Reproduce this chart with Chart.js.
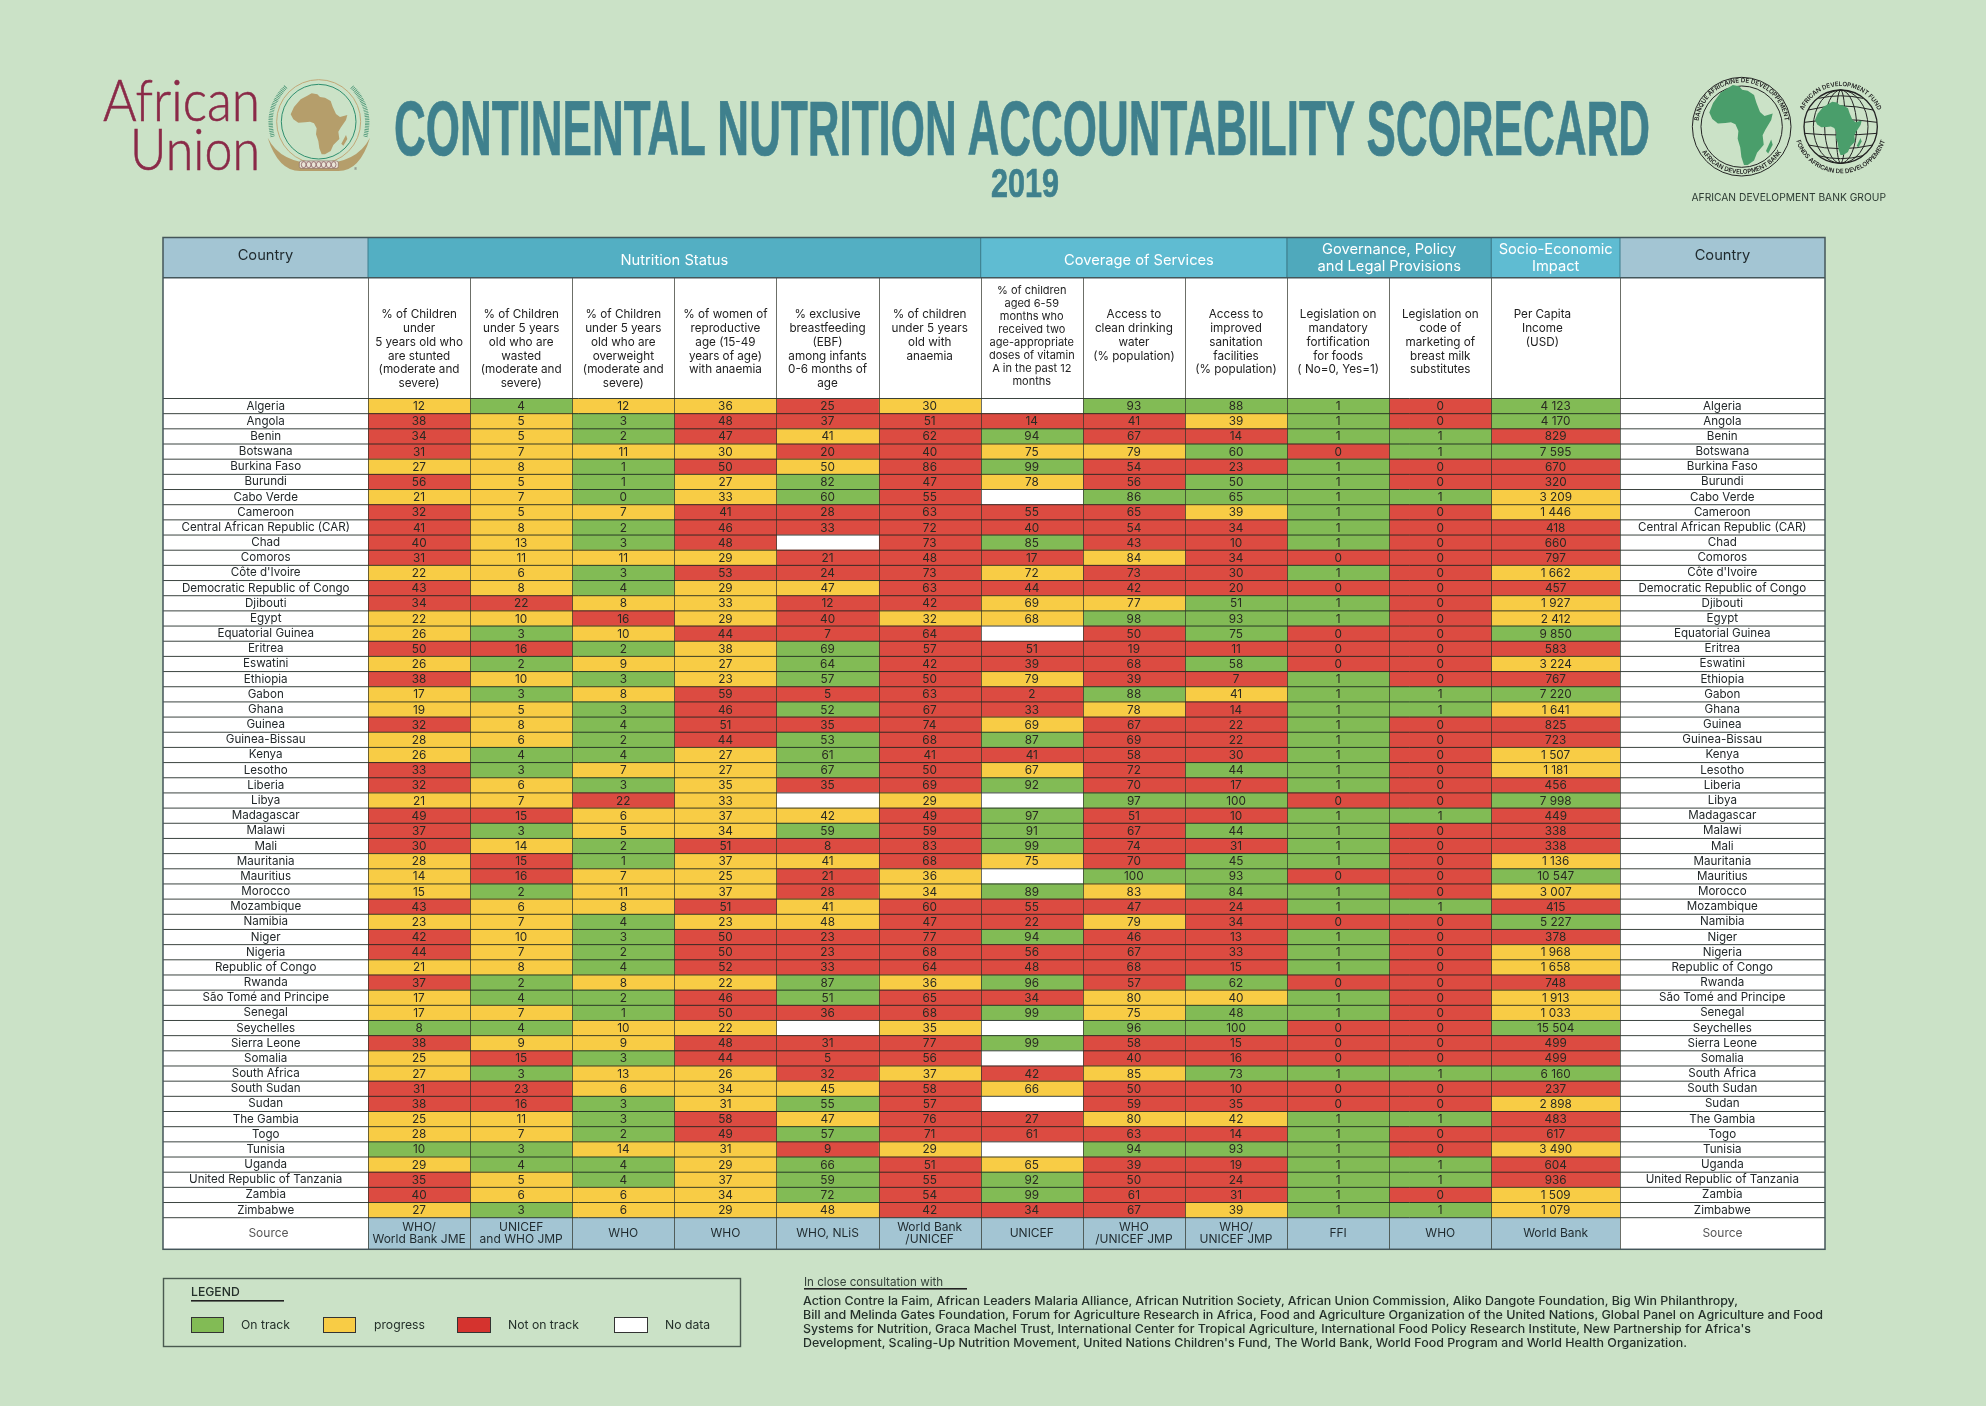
<!DOCTYPE html>
<html>
<head>
<meta charset="utf-8">
<title>Continental Nutrition Accountability Scorecard 2019</title>
<script src="https://cdn.jsdelivr.net/npm/chart.js@4"></script>
<style>
  html, body { margin: 0; padding: 0; background: #cbe2c7; }
  #wrap { position: relative; width: 1986px; height: 1406px; overflow: hidden; }
  #scorecard { position: absolute; left: 0; top: 0; }
  #page { position: absolute; left: 0; top: 0; pointer-events: none; font-family: Inter, "Noto Sans", sans-serif; }
  .ttl { font-family: "Liberation Sans Narrow", "Liberation Sans", sans-serif; font-weight: 700; fill: #3f808d; stroke: #3f808d; stroke-width: .7; }
  .foot { font-size: 11.4px; font-weight: 500; fill: #24302a; }
  .leg { font-size: 12.2px; fill: #24302a; }
  .ring { font-size: 18.5px; font-weight: 600; fill: #222; }
</style>
</head>
<body>
<div id="wrap">
<canvas id="scorecard" width="1986" height="1406"></canvas>
<svg id="page" width="1986" height="1406" viewBox="0 0 1986 1406">
  <defs>
    <g id="africa">
      <path d="M602,148 L612,126 L632,103 L652,92 L665,85 L682,88 L690,96 L705,98 L722,108 L728,125 L738,147 L750,156 L772,150 L768,165 L752,188 L745,200 L748,222 L730,240 L722,258 L705,268 L695,268 L688,250 L685,228 L678,208 L680,190 L672,175 L660,170 L645,172 L625,173 L610,163 Z" stroke-linejoin="round"/>
      <path d="M768,210 L772,222 L760,242 L754,236 Z"/>
    </g>
    <path id="bankTop" d="M57,205 A130,130 0 1 1 313,205"/>
    <path id="bankBottom" d="M53,235 A141,141 0 0 0 317,235"/>
    <path id="fundTop" d="M360,185 A122,122 0 0 1 604,185"/>
    <path id="fundBottom" d="M342,185 A140,140 0 0 0 622,185"/>
  </defs>

  <!-- African Union logo -->
  <text x="103" y="121" textLength="157" lengthAdjust="spacingAndGlyphs" font-family="Lato" font-weight="300" font-size="58" fill="#8a2a48" stroke="#8a2a48" stroke-width=".6">African</text>
  <text x="130" y="170" textLength="130" lengthAdjust="spacingAndGlyphs" font-family="Lato" font-weight="300" font-size="58" fill="#8a2a48" stroke="#8a2a48" stroke-width=".6">Union</text>
  <g transform="translate(90,65) scale(.33333)">
    <circle cx="686" cy="170" r="112" fill="none" stroke="#2f8f6e" stroke-width="3"/>
    <circle cx="686" cy="170" r="126" fill="none" stroke="#c1a877" stroke-width="3"/>
    <use href="#africa" fill="#b59e6b"/>
    <path d="M533,218 Q565,318 630,318 L745,318 Q810,318 840,218 Q800,296 686,296 Q572,296 533,218 Z" fill="#b59e6b"/>
    <path d="M548,215 Q525,130 588,65 M826,215 Q848,130 785,65" fill="none" stroke="#3f8f6f" stroke-width="13" stroke-dasharray="2 3"/>
    <rect x="628" y="288" width="117" height="22" rx="6" fill="#e9e4d6" stroke="#8a6a60" stroke-width="2"/>
    <g fill="none" stroke="#7a4a50" stroke-width="2">
      <ellipse cx="641" cy="299" rx="7" ry="9"/><ellipse cx="656" cy="299" rx="7" ry="9"/><ellipse cx="671" cy="299" rx="7" ry="9"/>
      <ellipse cx="686" cy="299" rx="7" ry="9"/><ellipse cx="701" cy="299" rx="7" ry="9"/><ellipse cx="716" cy="299" rx="7" ry="9"/><ellipse cx="731" cy="299" rx="7" ry="9"/>
    </g>
    <text x="792" y="318" font-size="14" fill="#777">®</text>
  </g>

  <!-- title -->
  <text class="ttl" x="394" y="155" font-size="77" textLength="1256" lengthAdjust="spacingAndGlyphs">CONTINENTAL NUTRITION ACCOUNTABILITY SCORECARD</text>
  <text class="ttl" x="991" y="196.5" font-size="41" textLength="68" lengthAdjust="spacingAndGlyphs">2019</text>

  <!-- African Development Bank Group logos -->
  <g transform="translate(1680,65) scale(.33333)">
    <circle cx="185" cy="185" r="148" fill="none" stroke="#222" stroke-width="3"/>
    <circle cx="185" cy="185" r="122" fill="none" stroke="#222" stroke-width="3"/>
    <use href="#africa" fill="#4a9e6b" transform="translate(88,60) scale(1.118,1.311) translate(-602,-85)"/>
    <text class="ring"><textPath href="#bankTop" startOffset="50%" text-anchor="middle">BANQUE AFRICAINE DE DEVELOPPEMENT</textPath></text>
    <text class="ring"><textPath href="#bankBottom" startOffset="50%" text-anchor="middle">AFRICAN DEVELOPMENT BANK</textPath></text>
    <g fill="none" stroke="#222" stroke-width="3">
      <circle cx="482" cy="185" r="110" stroke-width="4"/>
      <ellipse cx="482" cy="185" rx="82" ry="110"/><ellipse cx="482" cy="185" rx="48" ry="110"/><ellipse cx="482" cy="185" rx="14" ry="110"/>
      <path d="M385,135 Q482,110 579,135 M373,172 Q482,155 591,172 M373,205 Q482,215 591,205 M385,240 Q482,262 579,240 M415,100 Q482,85 549,100 M415,272 Q482,290 549,272"/>
    </g>
    <use href="#africa" fill="#4a9e6b" transform="translate(405,110) scale(.824,.874) translate(-602,-85)"/>
    <text class="ring"><textPath href="#fundTop" startOffset="50%" text-anchor="middle">AFRICAN DEVELOPMENT FUND</textPath></text>
    <text class="ring"><textPath href="#fundBottom" startOffset="50%" text-anchor="middle">FONDS AFRICAIN DE DEVELOPPEMENT</textPath></text>
  </g>
  <text x="1691.5" y="200.5" font-size="10.5" textLength="194.5" lengthAdjust="spacingAndGlyphs" fill="#2c3a32">AFRICAN DEVELOPMENT BANK GROUP</text>

  <!-- legend -->
  <rect x="163.5" y="1278.5" width="577" height="68" fill="none" stroke="#4a5a50" stroke-width="1.4"/>
  <text class="leg" x="191" y="1296" font-weight="500">LEGEND</text>
  <rect x="191" y="1300" width="93" height="1.6" fill="#222"/>
  <rect x="191.5" y="1317.5" width="32" height="15" fill="#82bb55" stroke="#333"/>
  <text class="leg" x="241" y="1329">On track</text>
  <rect x="323.5" y="1317.5" width="32" height="15" fill="#f8cc45" stroke="#333"/>
  <text class="leg" x="374" y="1329">progress</text>
  <rect x="457.5" y="1317.5" width="33" height="15" fill="#d5332e" stroke="#333"/>
  <text class="leg" x="508" y="1329">Not on track</text>
  <rect x="614.5" y="1317.5" width="33" height="15" fill="#fff" stroke="#333"/>
  <text class="leg" x="665" y="1329">No data</text>

  <!-- consultation note -->
  <text x="804" y="1285.5" font-size="11.6" fill="#35423a">In close consultation with</text>
  <rect x="804" y="1288" width="163" height="1.6" fill="#222"/>
  <text class="foot" x="803" y="1305" textLength="935" lengthAdjust="spacingAndGlyphs">Action Contre la Faim, African Leaders Malaria Alliance, African Nutrition Society, African Union Commission, Aliko Dangote Foundation, Big Win Philanthropy,</text>
  <text class="foot" x="803" y="1319" textLength="1020" lengthAdjust="spacingAndGlyphs">Bill and Melinda Gates Foundation, Forum for Agriculture Research in Africa, Food and Agriculture Organization of the United Nations, Global Panel on Agriculture and Food</text>
  <text class="foot" x="803" y="1333" textLength="948" lengthAdjust="spacingAndGlyphs">Systems for Nutrition, Graca Machel Trust, International Center for Tropical Agriculture, International Food Policy Research Institute, New Partnership for Africa's</text>
  <text class="foot" x="803" y="1347" textLength="884" lengthAdjust="spacingAndGlyphs">Development, Scaling-Up Nutrition Movement, United Nations Children's Fund, The World Bank, World Food Program and World Health Organization.</text>
</svg>
</div>

<script>
const countries = ["Algeria","Angola","Benin","Botswana","Burkina Faso","Burundi","Cabo Verde","Cameroon","Central African Republic (CAR)","Chad","Comoros","Côte d'Ivoire","Democratic Republic of Congo","Djibouti","Egypt","Equatorial Guinea","Eritrea","Eswatini","Ethiopia","Gabon","Ghana","Guinea","Guinea-Bissau","Kenya","Lesotho","Liberia","Libya","Madagascar","Malawi","Mali","Mauritania","Mauritius","Morocco","Mozambique","Namibia","Niger","Nigeria","Republic of Congo","Rwanda","São Tomé and Principe","Senegal","Seychelles","Sierra Leone","Somalia","South Africa","South Sudan","Sudan","The Gambia","Togo","Tunisia","Uganda","United Republic of Tanzania","Zambia","Zimbabwe"];

const stunted = [12,38,34,31,27,56,21,32,41,40,31,22,43,34,22,26,50,26,38,17,19,32,28,26,33,32,21,49,37,30,28,14,15,43,23,42,44,21,37,17,17,8,38,25,27,31,38,25,28,10,29,35,40,27];
const wasted = [4,5,5,7,8,5,7,5,8,13,11,6,8,22,10,3,16,2,10,3,5,8,6,4,3,6,7,15,3,14,15,16,2,6,7,10,7,8,2,4,7,4,9,15,3,23,16,11,7,3,4,5,6,3];
const overweight = [12,3,2,11,1,1,0,7,2,3,11,3,4,8,16,10,2,9,3,8,3,4,2,4,7,3,22,6,5,2,1,7,11,8,4,3,2,4,8,2,1,10,9,3,13,6,3,3,2,14,4,4,6,6];
const womenAnaemia = [36,48,47,30,50,27,33,41,46,48,29,53,29,33,29,44,38,27,23,59,46,51,44,27,27,35,33,37,34,51,37,25,37,51,23,50,50,52,22,46,50,22,48,44,26,34,31,58,49,31,29,37,34,29];
const breastfeeding = [25,37,41,20,50,82,60,28,33,null,21,24,47,12,40,7,69,64,57,5,52,35,53,61,67,35,null,42,59,8,41,21,28,41,48,23,23,33,87,51,36,null,31,5,32,45,55,47,57,9,66,59,72,48];
const childAnaemia = [30,51,62,40,86,47,55,63,72,73,48,73,63,42,32,64,57,42,50,63,67,74,68,41,50,69,29,49,59,83,68,36,34,60,47,77,68,64,36,65,68,35,77,56,37,58,57,76,71,29,51,55,54,42];
const vitaminA = [null,14,94,75,99,78,null,55,40,85,17,72,44,69,68,null,51,39,79,2,33,69,87,41,67,92,null,97,91,99,75,null,89,55,22,94,56,48,96,34,99,null,99,null,42,66,null,27,61,null,65,92,99,34];
const water = [93,41,67,79,54,56,86,65,54,43,84,73,42,77,98,50,19,68,39,88,78,67,69,58,72,70,97,51,67,74,70,100,83,47,79,46,67,68,57,80,75,96,58,40,85,50,59,80,63,94,39,50,61,67];
const sanitation = [88,39,14,60,23,50,65,39,34,10,34,30,20,51,93,75,11,58,7,41,14,22,22,30,44,17,100,10,44,31,45,93,84,24,34,13,33,15,62,40,48,100,15,16,73,10,35,42,14,93,19,24,31,39];
const fortification = [1,1,1,0,1,1,1,1,1,1,0,1,0,1,1,0,0,0,1,1,1,1,1,1,1,1,0,1,1,1,1,0,1,1,0,1,1,1,0,1,1,0,0,0,1,0,0,1,1,1,1,1,1,1];
const marketingCode = [0,0,1,1,0,0,1,0,0,0,0,0,0,0,0,0,0,0,0,1,1,0,0,0,0,0,0,1,0,0,0,0,0,1,0,0,0,0,0,0,0,0,0,0,1,0,0,1,0,0,1,1,0,1];
const income = [4123,4170,829,7595,670,320,3209,1446,418,660,797,1662,457,1927,2412,9850,583,3224,767,7220,1641,825,723,1507,1181,456,7998,449,338,338,1136,10547,3007,415,5227,378,1968,1658,748,1913,1033,15504,499,499,6160,237,2898,483,617,3490,604,936,1509,1079];

const columnHeaders = [
  ["% of Children","under","5 years old who","are stunted","(moderate and","severe)"],
  ["% of Children","under 5 years","old who are","wasted","(moderate and","severe)"],
  ["% of Children","under 5 years","old who are","overweight","(moderate and","severe)"],
  ["% of women of","reproductive","age (15-49","years of age)","with anaemia"],
  ["% exclusive","breastfeeding","(EBF)","among infants","0-6 months of","age"],
  ["% of children","under 5 years","old with","anaemia"],
  ["% of children","aged 6-59","months who","received two","age-appropriate","doses of vitamin","A in the past 12","months"],
  ["Access to","clean drinking","water","(% population)"],
  ["Access to","improved","sanitation","facilities","(% population)"],
  ["Legislation on","mandatory","fortification","for foods","( No=0, Yes=1)"],
  ["Legislation on","code of","marketing of","breast milk","substitutes"],
  ["Per Capita","Income","(USD)"]
];
const sources = [["WHO/","World Bank JME"],["UNICEF","and WHO JMP"],["WHO"],["WHO"],["WHO, NLiS"],["World Bank","/UNICEF"],["UNICEF"],["WHO","/UNICEF JMP"],["WHO/","UNICEF JMP"],["FFI"],["WHO"],["World Bank"]];
const groups = [["Nutrition Status"],["Coverage of Services"],["Governance, Policy","and Legal Provisions"],["Socio-Economic","Impact"]];
const groupColumns = [6,3,2,1];

const columns = [stunted,wasted,overweight,womenAnaemia,breastfeeding,childAnaemia,vitaminA,water,sanitation,fortification,marketingCode,income];
// cut-offs, column by column
const lowerIsBetter = { 0: [10,29], 1: [4,14], 2: [4,14], 3: [-1,39], 5: [-1,39] };
const higherIsBetter = { 4: [40,50], 6: [64,79], 7: [74,85], 8: [38,43], 9: [0,0], 10: [0,0], 11: [999,3999] };

const GREEN = "#82bb55", YELLOW = "#f8cc45", RED = "#dc4b41";
const FONT = 'Inter, "Noto Sans", sans-serif';

function statusOf(c, v) {
  if (v === null) return "#ffffff";
  if (lowerIsBetter[c]) {
    const t = lowerIsBetter[c];
    return v <= t[0] ? GREEN : v <= t[1] ? YELLOW : RED;
  }
  const t = higherIsBetter[c];
  return v <= t[0] ? RED : v <= t[1] ? YELLOW : GREEN;
}

function spanOf(c) { return c === 11 ? 1.26 : 1; }
function startOf(c) { let s = 0; for (let i = 0; i < c; i++) s += spanOf(i); return s; }
function fmt(c, v) { return c === 11 ? String(v).replace(/\B(?=(\d{3})+$)/g, " ") : String(v); }

const datasets = columns.map((vals, c) => ({
  label: columnHeaders[c].join(" "),
  values: vals,
  data: vals.map(() => [startOf(c), startOf(c) + spanOf(c)]),
  backgroundColor: vals.map(v => statusOf(c, v)),
  borderWidth: 0,
  grouped: false,
  barPercentage: 1,
  categoryPercentage: 1
}));

function lines(ctx, arr, x, y, step) {
  arr.forEach((t, i) => ctx.fillText(t, x, y + i * step));
}

const tablePlugin = {
  id: "tablePlugin",
  beforeDraw(chart) {
    const ctx = chart.ctx, y = chart.scales.y, y2 = chart.scales.y2;
    ctx.save();
    ctx.fillStyle = "#cbe2c7";
    ctx.fillRect(0, 0, chart.width, chart.height);
    ctx.fillStyle = "#ffffff";
    ctx.fillRect(y.left, 237.5, y2.right - y.left, 1012);
    ctx.restore();
  },
  afterDatasetsDraw(chart) {
    const ctx = chart.ctx, x = chart.scales.x, y = chart.scales.y, y2 = chart.scales.y2;
    const L = y.left, R = y2.right, T = 237.5, B1 = 277.7, B2 = chart.chartArea.top, B3 = chart.chartArea.bottom, B4 = 1249.3;
    const left = x.getPixelForValue(0), right = x.getPixelForValue(startOf(12));
    ctx.save();

    // group band
    ctx.fillStyle = "#a3c5d3";
    ctx.fillRect(L, T, left - L, B1 - T);
    ctx.fillRect(right, T, R - right, B1 - T);
    const bandFill = ["#53afc3", "#5fbcd2", "#4fa9bc", "#5fbcd2"];
    let c0 = 0;
    groups.forEach((g, i) => {
      const a = x.getPixelForValue(startOf(c0)), b = x.getPixelForValue(startOf(c0 + groupColumns[i]));
      ctx.fillStyle = bandFill[i];
      ctx.fillRect(a, T, b - a, B1 - T);
      ctx.fillStyle = "#ffffff";
      ctx.font = "14.7px " + FONT;
      ctx.textAlign = "center";
      ctx.textBaseline = "middle";
      lines(ctx, g, (a + b) / 2 + (i === 1 ? 5 : 0), g.length > 1 ? 250 : 260.5, 17);
      ctx.strokeStyle = "#3d7f8e";
      ctx.lineWidth = 1;
      ctx.beginPath();
      ctx.moveTo(a, T); ctx.lineTo(a, B1);
      ctx.moveTo(b, T); ctx.lineTo(b, B1);
      ctx.stroke();
      c0 += groupColumns[i];
    });
    ctx.fillStyle = "#1f2a2e";
    ctx.font = "14.7px " + FONT;
    ctx.fillText("Country", (L + left) / 2, 255.5);
    ctx.fillText("Country", (right + R) / 2, 255.5);

    // column headings
    ctx.fillStyle = "#222";
    columnHeaders.forEach((h, c) => {
      const cx = x.getPixelForValue(startOf(c) + 0.5);
      ctx.font = (h.length > 6 ? "11px " : "11.7px ") + FONT;
      if (h.length > 6) lines(ctx, h, cx, 291, 13);
      else lines(ctx, h, cx, 314.7, 13.8);
    });

    // source row
    ctx.fillStyle = "#a3c5d3";
    ctx.fillRect(left, B3, right - left, B4 - B3);
    ctx.fillStyle = "#1f2a2e";
    ctx.font = "12px " + FONT;
    sources.forEach((s, c) => {
      const cx = x.getPixelForValue(startOf(c) + spanOf(c) / 2);
      lines(ctx, s, cx, s.length > 1 ? 1227 : 1233, 12.4);
    });
    ctx.fillStyle = "#555";
    ctx.fillText("Source", (L + left) / 2 + 3, 1233);
    ctx.fillText("Source", (right + R) / 2, 1233);

    // values
    ctx.fillStyle = "#2a2a22";
    ctx.font = "11.8px " + FONT;
    chart.data.datasets.forEach((ds, c) => {
      chart.getDatasetMeta(c).data.forEach((bar, i) => {
        if (ds.values[i] === null) return;
        const p = bar.getCenterPoint();
        ctx.fillText(fmt(c, ds.values[i]), p.x, p.y + 0.5);
      });
    });

    // rules
    const rowH = (B3 - B2) / countries.length;
    ctx.strokeStyle = "rgba(25,35,30,.85)";
    ctx.lineWidth = 1;
    ctx.beginPath();
    for (let i = 0; i <= countries.length; i++) {
      const py = y.getPixelForValue(i) - rowH / 2;
      ctx.moveTo(L, py); ctx.lineTo(R, py);
    }
    ctx.stroke();
    ctx.strokeStyle = "rgba(45,50,40,.7)";
    ctx.beginPath();
    for (let c = 0; c <= 12; c++) {
      const px = Math.round(x.getPixelForValue(startOf(c))) + 0.5;
      ctx.moveTo(px, B1); ctx.lineTo(px, B4);
    }
    ctx.stroke();
    ctx.strokeStyle = "#44565a";
    ctx.lineWidth = 1.5;
    ctx.strokeRect(L, T, R - L, B4 - T);
    ctx.beginPath();
    ctx.moveTo(L, B1); ctx.lineTo(R, B1);
    ctx.stroke();
    ctx.restore();
  }
};

new Chart(document.getElementById("scorecard"), {
  type: "bar",
  data: { labels: countries, datasets: datasets },
  options: {
    indexAxis: "y",
    responsive: false,
    animation: false,
    devicePixelRatio: 1,
    layout: { padding: { left: 163, right: 161, top: 398.5, bottom: 188.3 } },
    plugins: { legend: { display: false }, tooltip: { enabled: false } },
    scales: {
      x: { type: "linear", display: false, min: 0, max: startOf(12) },
      y: {
        type: "category", offset: true, position: "left",
        afterFit(s) { s.width = 205; },
        grid: { display: false, drawTicks: false }, border: { display: false },
        ticks: { autoSkip: false, crossAlign: "center", padding: 18, color: "#22282a", font: { family: FONT, size: 11.6 } }
      },
      y2: {
        type: "category", offset: true, position: "right",
        afterFit(s) { s.width = 205; },
        grid: { display: false, drawTicks: false }, border: { display: false },
        ticks: { autoSkip: false, crossAlign: "center", padding: 18, color: "#22282a", font: { family: FONT, size: 11.6 } }
      }
    }
  },
  plugins: [tablePlugin]
});
</script>
</body>
</html>
